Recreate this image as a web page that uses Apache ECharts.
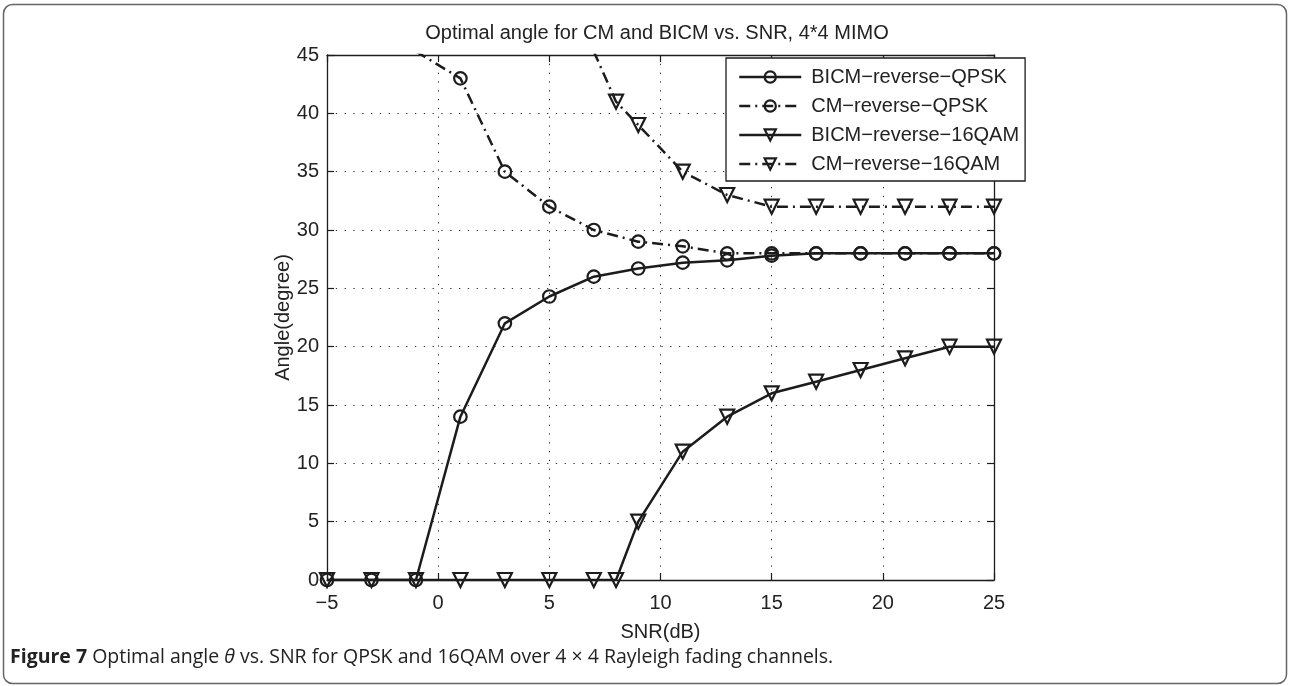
<!DOCTYPE html>
<html>
<head>
<meta charset="utf-8">
<script src="https://cdn.jsdelivr.net/npm/echarts@6/dist/echarts.min.js"></script>
<style>
html,body{margin:0;padding:0;background:#fff;}
#chart{width:1289px;height:686px;}
</style>
</head>
<body>
<div id="chart"></div>
<script>
// ---- data ----
const xTicks = [-5, 0, 5, 10, 15, 20, 25];
const yTicks = [0, 5, 10, 15, 20, 25, 30, 35, 40, 45];

const seriesNames = ['BICM−reverse−QPSK', 'CM−reverse−QPSK', 'BICM−reverse−16QAM', 'CM−reverse−16QAM'];

const snrBicmQpsk = [-5, -3, -1, 1, 3, 5, 7, 9, 11, 13, 15, 17, 19, 21, 23, 25];
const angleBicmQpsk = [0, 0, 0, 14, 22, 24.3, 26, 26.7, 27.2, 27.4, 27.8, 28, 28, 28, 28, 28];

const snrCmQpsk = [-1, 1, 3, 5, 7, 9, 11, 13, 15, 17, 19, 21, 23, 25];
const angleCmQpsk = [45.3, 43, 35, 32, 30, 29, 28.6, 28, 28, 28, 28, 28, 28, 28];

const snrBicm16 = [-5, -3, -1, 1, 3, 5, 7, 8, 9, 11, 13, 15, 17, 19, 21, 23, 25];
const angleBicm16 = [0, 0, 0, 0, 0, 0, 0, 0, 5, 11, 14, 16, 17, 18, 19, 20, 20];

const snrCm16 = [7, 8, 9, 11, 13, 15, 17, 19, 21, 23, 25];
const angleCm16 = [45.3, 41, 39, 35, 33, 32, 32, 32, 32, 32, 32];

const titleText = 'Optimal angle for CM and BICM vs. SNR, 4*4 MIMO';
const xName = 'SNR(dB)';
const yName = 'Angle(degree)';

// ---- build ----
function pairs(xs, ys) { return xs.map((x, i) => [x, ys[i]]); }
const ink = '#1c1c1c';
const font = 'Liberation Sans, Arial, Helvetica, sans-serif';
const dashDot = [11, 5, 2, 5];

function mkSeries(name, xs, ys, symbol, dashed) {
  return {
    name: name,
    type: 'line',
    data: pairs(xs, ys),
    xAxisIndex: 0, yAxisIndex: 0,
    clip: true,
    symbol: symbol === 'tri' ? 'triangle' : 'circle',
    symbolRotate: symbol === 'tri' ? 180 : 0,
    symbolSize: symbol === 'tri' ? 14 : 12.5,
    showAllSymbol: true,
    lineStyle: { color: ink, width: 2.5, type: dashed ? dashDot : 'solid' },
    itemStyle: { color: 'rgba(0,0,0,0)', borderColor: ink, borderWidth: 2.2 },
    emphasis: { disabled: true },
    animation: false
  };
}

const gridLine = { show: true, lineStyle: { color: '#333', width: 1, type: [1.3, 7.5] } };
const tickLabel = { color: '#222', fontSize: 20, fontFamily: font };

const chart = echarts.init(document.getElementById('chart'), null, { renderer: 'canvas' });
chart.setOption({
  backgroundColor: '#fff',
  animation: false,
  title: {
    text: titleText,
    left: 652, top: 18, textAlign: 'center',
    textStyle: { color: '#222', fontSize: 20, fontWeight: 'normal', fontFamily: font }
  },
  grid: { left: 327, right: 295, top: 55, bottom: 106, containLabel: false },
  legend: {
    orient: 'vertical',
    left: 726, top: 58,
    padding: [9, 6, 7, 12],
    itemGap: 9,
    itemWidth: 62, itemHeight: 14,
    backgroundColor: '#fff',
    borderColor: ink, borderWidth: 1.3, borderRadius: 0,
    lineStyle: { width: 2.5 },
    itemStyle: { borderWidth: 2.2 },
    textStyle: { color: '#222', fontSize: 20, fontFamily: font, padding: [0, 0, 0, 5] },
    data: seriesNames
  },
  xAxis: [{
    type: 'value', min: -5, max: 25, interval: 5, position: 'bottom',
    name: xName, nameLocation: 'middle', nameGap: 42,
    nameTextStyle: { color: '#222', fontSize: 20, fontFamily: font },
    axisLine: { show: true, onZero: false, lineStyle: { color: ink, width: 1.3 } },
    axisTick: { show: true, inside: true, length: 7, lineStyle: { color: ink, width: 1.2 } },
    axisLabel: Object.assign({ margin: 13, formatter: v => String(v).replace('-', '−') }, tickLabel),
    splitLine: gridLine
  }, {
    type: 'value', min: -5, max: 25, interval: 5, position: 'top',
    axisLine: { show: true, onZero: false, lineStyle: { color: ink, width: 1.3 } },
    axisTick: { show: true, inside: true, length: 7, lineStyle: { color: ink, width: 1.2 } },
    axisLabel: { show: false },
    splitLine: { show: false }
  }],
  yAxis: [{
    type: 'value', min: 0, max: 45, interval: 5, position: 'left',
    name: yName, nameLocation: 'middle', nameGap: 34, nameRotate: 90,
    nameMoveOverlap: false,
    nameTextStyle: { color: '#222', fontSize: 20, fontFamily: font },
    axisLine: { show: true, onZero: false, lineStyle: { color: ink, width: 1.3 } },
    axisTick: { show: true, inside: true, length: 7, lineStyle: { color: ink, width: 1.2 } },
    axisLabel: Object.assign({ margin: 8 }, tickLabel),
    splitLine: gridLine
  }, {
    type: 'value', min: 0, max: 45, interval: 5, position: 'right',
    axisLine: { show: true, onZero: false, lineStyle: { color: ink, width: 1.3 } },
    axisTick: { show: true, inside: true, length: 7, lineStyle: { color: ink, width: 1.2 } },
    axisLabel: { show: false },
    splitLine: { show: false }
  }],
  series: [
    mkSeries(seriesNames[0], snrBicmQpsk, angleBicmQpsk, 'circle', false),
    mkSeries(seriesNames[1], snrCmQpsk, angleCmQpsk, 'circle', true),
    mkSeries(seriesNames[2], snrBicm16, angleBicm16, 'tri', false),
    mkSeries(seriesNames[3], snrCm16, angleCm16, 'tri', true)
  ],
  graphic: [
    {
      type: 'rect', silent: true, z: -1,
      shape: { x: 3.5, y: 4.5, width: 1283, height: 679, r: 9 },
      style: { fill: 'none', stroke: '#666', lineWidth: 1.5 }
    },
    {
      type: 'text', left: 10, top: 647, silent: true,
      style: {
        text: '{b|Figure 7} Optimal angle {i|θ} vs. SNR for QPSK and 16QAM over 4 × 4 Rayleigh fading channels.',
        fontSize: 19.5, fontFamily: 'Open Sans, Noto Sans, sans-serif', fill: '#222',
        rich: {
          b: { fontWeight: 'bold', fontSize: 19.5, fontFamily: 'Open Sans, Noto Sans, sans-serif', fill: '#222' },
          i: { fontStyle: 'italic', fontSize: 19.5, fontFamily: 'Open Sans, Noto Sans, sans-serif', fill: '#222' }
        }
      }
    }
  ]
});
</script>
</body>
</html>
